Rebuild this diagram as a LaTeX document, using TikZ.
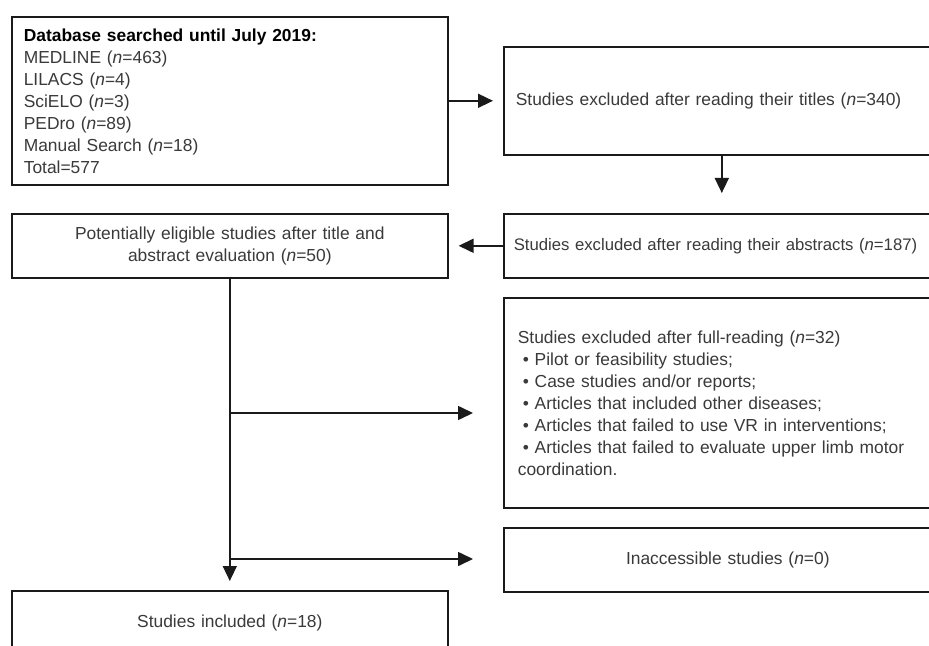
\documentclass[tikz,border=0pt]{standalone}
\usepackage{fontspec}
\setmainfont{Liberation Sans}
\usepackage{tikz}
\usetikzlibrary{arrows.meta,positioning,calc}
\usepackage{xcolor}
\definecolor{DarkText}{HTML}{3A3A3A}
\definecolor{Edge}{HTML}{1A1A1A}
\tikzset{
  box/.style={draw=Edge, line width=0.8pt, fill=white, text=DarkText, anchor=north west,
    inner xsep=6pt, inner ysep=4pt, minimum height=32pt,
    font=\fontsize{8.7pt}{11pt}\selectfont},
  leftcol/.style={box, text width=206pt},
  rightcol/.style={box, text width=212pt},
  arr/.style={-{Triangle[length=7.5pt,width=7pt]}, line width=0.8pt, draw=Edge}
}

\begin{document}
\begin{tikzpicture}[x=0.5pt,y=-0.5pt]
\useasboundingbox (0,0) rectangle (929,646);
\clip (0,0) rectangle (929,646);
% left column
\node[leftcol,align=left,minimum height=84pt] (db) at (11,16)
  {{\color{black}\bfseries Database searched until July 2019:}\\
   MEDLINE (\textit{n}=463)\\
   LILACS (\textit{n}=4)\\
   SciELO (\textit{n}=3)\\
   PEDro (\textit{n}=89)\\
   Manual Search (\textit{n}=18)\\
   Total=577};
\node[leftcol,align=center] (elig) at (11,213)
  {Potentially eligible studies after title and\\ abstract evaluation (\textit{n}=50)};
\node[leftcol,align=center] (incl) at (11,590) {Studies included (\textit{n}=18)};
% right column
\node[rightcol,align=left,minimum height=54pt] (titles) at (503,46)
  {Studies excluded after reading their titles (\textit{n}=340)};
\node[rightcol,align=left,text width=230pt,inner xsep=5pt,
  font=\fontsize{8.35pt}{11pt}\selectfont] (abstracts) at (503,213)
  {Studies excluded after reading their abstracts (\textit{n}=187)};
\node[rightcol,align=left,minimum height=105pt,inner xsep=7pt] (full) at (503,297)
  {Studies excluded after full-reading (\textit{n}=32)\\
   \hspace*{2.5pt}\textbullet\ Pilot or feasibility studies;\\
   \hspace*{2.5pt}\textbullet\ Case studies and/or reports;\\
   \hspace*{2.5pt}\textbullet\ Articles that included other diseases;\\
   \hspace*{2.5pt}\textbullet\ Articles that failed to use VR in interventions;\\
   \hspace*{2.5pt}\textbullet\ Articles that failed to evaluate upper limb motor\\
   coordination.};
\node[rightcol,align=center] (inacc) at (503,527) {Inaccessible studies (\textit{n}=0)};
% connectors
\coordinate (b1) at (229,413);
\coordinate (b2) at (229,559);
\draw[arr,shorten >=5pt] (db) -- (titles);
\draw[arr,shorten >=10pt] ([xshift=-3pt]titles.south) -- ([xshift=-3pt]titles.south |- abstracts.north);
\draw[arr,shorten >=5pt] (abstracts) -- (elig);
\draw[arr,shorten >=4.5pt] (elig.south) -- (incl.north);
\draw[arr,shorten >=15pt] (b1) -- (b1 -| full.west);
\draw[arr,shorten >=15pt] (b2) -- (b2 -| inacc.west);
\end{tikzpicture}
\end{document}
